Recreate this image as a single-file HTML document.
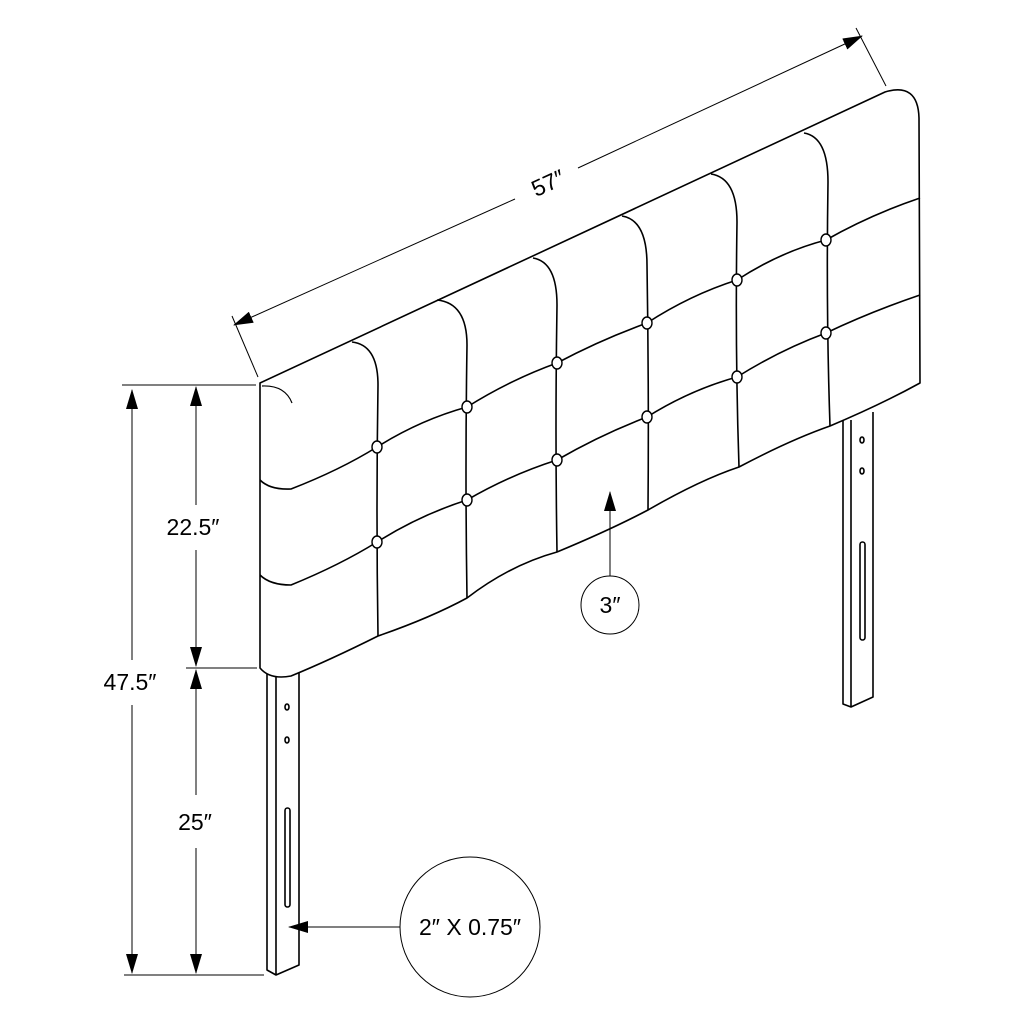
<!DOCTYPE html>
<html><head><style>body{margin:0;background:#fff}svg{display:block}</style></head><body>
<svg width="1024" height="1024" viewBox="0 0 1024 1024" xmlns="http://www.w3.org/2000/svg" font-family="Liberation Sans, sans-serif">
<defs>
<marker id="b" viewBox="0 0 20 12" markerWidth="20" markerHeight="12" refX="19" refY="6" orient="auto" markerUnits="userSpaceOnUse"><path d="M0,0 L20,6 L0,12 Z" fill="#000"/></marker></defs>
<g fill="none" stroke="#000" stroke-width="1.6" stroke-linejoin="round">
<path d="M267,668 L267,970 L276,975 L299,965 L299,672 M276,677 L276,975" fill="#fff"/>
<ellipse cx="287" cy="707" rx="2" ry="3"/><ellipse cx="287" cy="740" rx="2" ry="3"/>
<rect x="285" y="808" width="5" height="99" rx="2.5"/>
<path d="M843,420 L843,704 L851,707 L873,697 L873,412 M851,420 L851,707" fill="#fff"/>
<ellipse cx="862" cy="440" rx="2" ry="3"/><ellipse cx="862" cy="471" rx="2" ry="3"/>
<rect x="860" y="542" width="5" height="98" rx="2.5"/>
<path d="M260,383 L885,92 Q918,82 919,118 L920,383 Q880,405 830,426 Q790,440 739,467 Q700,480 648,510 Q610,530 557,552 Q510,565 467,598 Q430,618 378,636 Q330,660 291,676 Q270,680 260,668 Z" fill="#fff"/>
<path d="M262,386 Q285,385 292,403" stroke-width="1.2"/>
<path d="M352,342 Q378,345 378,385 Q376,510 378,636"/>
<path d="M437,300 Q467,303 467,345 Q465,470 467,598"/>
<path d="M533,258 Q557,262 557,305 Q555,430 557,552"/>
<path d="M622,216 Q647,220 647,265 Q649,390 648,510"/>
<path d="M711,174 Q737,178 737,222 Q735,350 739,467"/>
<path d="M804,133 Q828,137 828,182 Q826,310 830,426"/>
<path d="M260,480 Q270,490 291,489 Q340,470 377,447 Q420,420 467,407 Q510,380 557,363 Q600,340 647,323 Q690,295 737,280 Q780,252 826,240 Q870,215 920,198"/>
<path d="M260,575 Q270,585 291,585 Q340,565 377,542 Q420,515 467,500 Q510,475 557,460 Q600,435 647,417 Q690,390 737,377 Q780,350 826,333 Q870,312 920,295"/>
</g>
<g fill="#fff" stroke="#000" stroke-width="1.4">
<ellipse cx="377" cy="447" rx="5" ry="6"/><ellipse cx="377" cy="542" rx="5" ry="6"/>
<ellipse cx="467" cy="407" rx="5" ry="6"/><ellipse cx="467" cy="500" rx="5" ry="6"/>
<ellipse cx="557" cy="363" rx="5" ry="6"/><ellipse cx="557" cy="460" rx="5" ry="6"/>
<ellipse cx="647" cy="323" rx="5" ry="6"/><ellipse cx="647" cy="417" rx="5" ry="6"/>
<ellipse cx="737" cy="280" rx="5" ry="6"/><ellipse cx="737" cy="377" rx="5" ry="6"/>
<ellipse cx="826" cy="240" rx="5" ry="6"/><ellipse cx="826" cy="333" rx="5" ry="6"/>
</g>
<g stroke="#000" stroke-width="1" fill="none">
<line x1="122" y1="385" x2="256" y2="385"/>
<line x1="186" y1="668" x2="257" y2="668"/>
<line x1="124" y1="975" x2="264" y2="975"/>
<line x1="132" y1="660" x2="132" y2="390" marker-end="url(#b)"/>
<line x1="132" y1="705" x2="132" y2="973" marker-end="url(#b)"/>
<line x1="196" y1="505" x2="196" y2="387" marker-end="url(#b)"/>
<line x1="196" y1="550" x2="196" y2="666" marker-end="url(#b)"/>
<line x1="196" y1="795" x2="196" y2="670" marker-end="url(#b)"/>
<line x1="196" y1="848" x2="196" y2="973" marker-end="url(#b)"/>
<line x1="232" y1="316" x2="258" y2="377"/>
<line x1="856" y1="28" x2="886" y2="86"/>
<line x1="515" y1="199" x2="234" y2="325" marker-end="url(#b)"/>
<line x1="578" y1="168" x2="862" y2="36" marker-end="url(#b)"/>
<circle cx="610" cy="605" r="29"/>
<line x1="610" y1="576" x2="610" y2="492" marker-end="url(#b)"/>
<circle cx="470" cy="927" r="70"/>
<line x1="400" y1="927" x2="289" y2="927" marker-end="url(#b)"/>
</g>
<g font-size="23" fill="#000" text-anchor="middle">
<text x="193" y="535">22.5″</text>
<text x="130" y="690">47.5″</text>
<text x="195" y="830">25″</text>
<text x="610" y="613">3″</text>
<text x="470" y="935">2″ X 0.75″</text>
<text x="548" y="191" transform="rotate(-24.6 548 183)">57″</text>
</g>
</svg>
</body></html>
